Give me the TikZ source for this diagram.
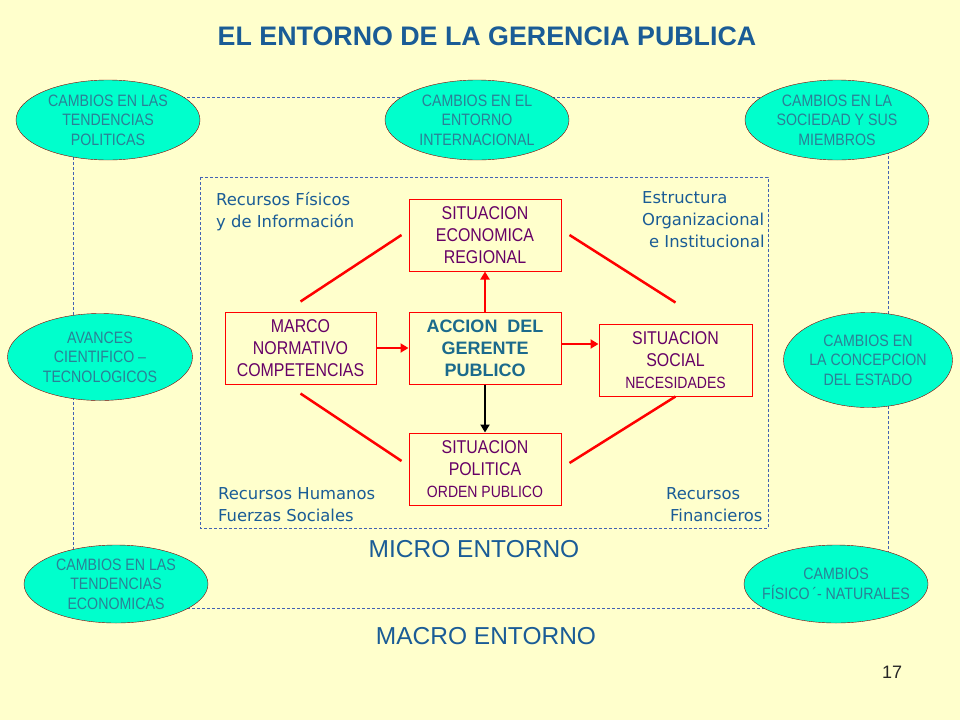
\documentclass[tikz,border=0pt]{standalone}
\usepackage{fontspec}
\setmainfont{Liberation Sans}
\newfontfamily\narrowfont[FakeStretch=0.86]{Liberation Sans}
\newfontfamily\labelfont{DejaVu Sans}
\usetikzlibrary{positioning,shapes.geometric,arrows.meta}
\definecolor{bgyellow}{HTML}{FFFFCC}
\definecolor{aqua}{HTML}{00FFCC}
\definecolor{titleblue}{HTML}{1A5C96}
\definecolor{ovaltext}{HTML}{2B8096}
\definecolor{boxpurple}{HTML}{660066}
\definecolor{accteal}{HTML}{1B6A8C}
\definecolor{dashblue}{HTML}{4262B4}

\begin{document}
\begin{tikzpicture}[x=1pt, y=-1pt,
    node distance=40pt and 32pt,
  myoval/.style = {
        draw=red!55!black, fill=aqua, ellipse, align=center,
        inner xsep=-14pt, inner ysep=-2pt, text=ovaltext,
        font=\narrowfont\fontsize{16.5}{19.5}\selectfont,
        minimum width=184pt, minimum height=80pt},
  mybox/.style = {
        draw=red, line width=1pt, fill=bgyellow, rectangle, align=center,
        inner sep=0pt, text=boxpurple,
        font=\narrowfont\fontsize{18.5}{22}\selectfont,
        minimum width=152pt, minimum height=72pt},
mylabel/.style = {
        anchor=west, align=left, inner sep=0pt, text=titleblue,
        font=\labelfont\fontsize{16.4}{22}\selectfont},
  frame/.style = {draw=dashblue, line width=0.8pt, dash pattern=on 3pt off 2pt},
   link/.style = {red, line width=2.5pt},
  arrow/.style = {link, -{Triangle[length=8pt,width=9pt]}}
                    ]
% background and size
\path[fill=bgyellow] (0,0) rectangle (960,720);
% the title
\node (title) [font=\fontsize{26.8}{30}\selectfont\bfseries, text=titleblue]
        at (487,36) {EL ENTORNO DE LA GERENCIA PUBLICA};
% the two frames
\draw[frame] (73,97) rectangle (888,608);
\draw[frame] (200,177) rectangle (768,528);
% the ovals of the macro entorno
\node (o1) [myoval] at (108,120)    {CAMBIOS EN LAS\\
                                    TENDENCIAS\\
                                    POLITICAS};
\node (o2) [myoval] at (477,120)    {CAMBIOS EN EL\\
                                    ENTORNO\\
                                    INTERNACIONAL};
\node (o3) [myoval] at (837,120)    {CAMBIOS EN LA\\
                                    SOCIEDAD Y SUS\\
                                    MIEMBROS};
\node (o4) [myoval, minimum width=185pt, minimum height=87pt]
                    at (100,357)    {AVANCES\\
                                    CIENTIFICO –\\
                                    TECNOLOGICOS};
\node (o5) [myoval, minimum width=169pt, minimum height=95pt]
                    at (868,360)    {CAMBIOS EN\\
                                    LA CONCEPCION\\
                                    DEL ESTADO};
\node (o6) [myoval, minimum height=78pt]
                    at (116,584)    {CAMBIOS EN LAS\\
                                    TENDENCIAS\\
                                    ECONOMICAS};
\node (o7) [myoval, minimum height=78pt]
                    at (836,584)    {CAMBIOS\\
                                    FÍSICO\,´- NATURALES};
% the boxes of the micro entorno
\node (acc) [mybox, text=accteal, font=\fontsize{18}{22}\selectfont\bfseries]
                    at (485,348)    {ACCION\ \ DEL\\
                                    GERENTE\\
                                    PUBLICO};
\node (eco) [mybox, above=of acc]   {SITUACION\\
                                    ECONOMICA\\
                                    REGIONAL};
\node (pol) [mybox, below=48pt of acc]  {SITUACION\\
                                    POLITICA\\
                                    {\fontsize{16.3}{19}\selectfont ORDEN PUBLICO}};
\node (marco) [mybox, minimum width=151pt, left=of acc]
                                    {MARCO\\
                                    NORMATIVO\\
                                    COMPETENCIAS};
\node (soc) [mybox, minimum width=153pt, right=37pt of acc, yshift=-12pt]
                                    {SITUACION\\
                                    SOCIAL\\
                                    {\fontsize{16.3}{19}\selectfont NECESIDADES}};
% arrows out of the centre
\draw[arrow] (marco) -- (acc);
\draw[arrow] ([yshift=4pt] acc.east) -- ([yshift=4pt] acc.east -| soc.west);
\draw[arrow] (acc) -- (eco);
\draw[arrow, black] (acc) -- (pol);
% the diamond of red lines
\draw[link] ([yshift=10pt] marco.north) -- ([xshift=-7pt] eco.west);
\draw[link] ([xshift=8pt] eco.east) -- ([yshift=21pt] soc.north);
\draw[link] ([yshift=-9pt] marco.south) -- ([xshift=-7pt,yshift=8pt] pol.west);
\draw[link] ([xshift=8pt,yshift=6pt] pol.east) -- (soc.south);
% the resources in the corners
\node (r1) [mylabel] at (216,212)   {Recursos Físicos\\
                                    y de Información};
\node (r2) [mylabel] at (642,220)   {Estructura\\
                                    Organizacional\\
                                    \hspace*{7pt}e Institucional};
\node (r3) [mylabel] at (218,505)   {Recursos Humanos\\
                                    Fuerzas Sociales};
\node (r4) [mylabel] at (666,505)   {Recursos\\
                                    \hspace*{4pt}Financieros};
% the names of the frames
\node (micro) [text=titleblue, font=\fontsize{24.5}{28}\selectfont]
        at (474,549) {MICRO ENTORNO};
\node (macro) [text=titleblue, font=\fontsize{24.5}{28}\selectfont]
        at (486,636) {MACRO ENTORNO};
\node (page) [text=black!85, font=\fontsize{18}{22}\selectfont]
        at (892,672) {17};
\end{tikzpicture}
\end{document}
